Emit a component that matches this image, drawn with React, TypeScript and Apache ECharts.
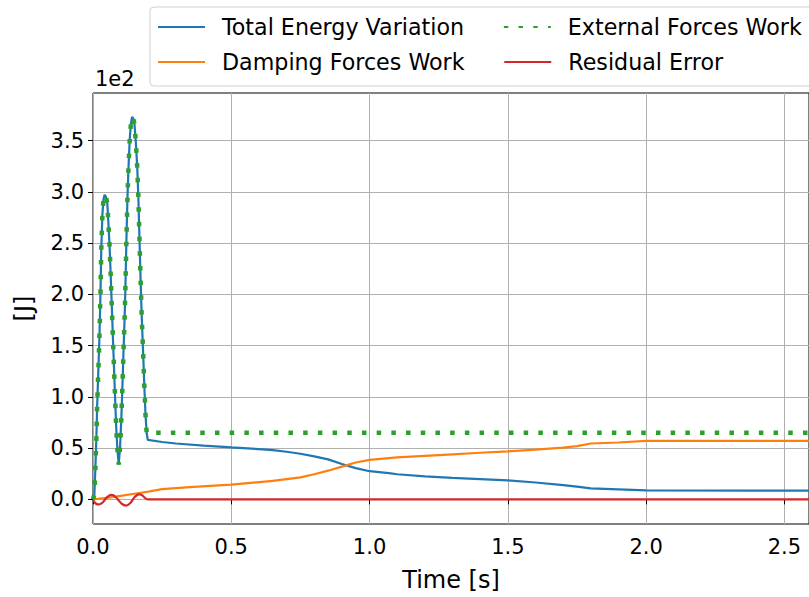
import React, { useEffect, useRef } from "react";
import * as echarts from "echarts";

const FONT = "DejaVu Sans";

// x-axis and y-axis tick values (y in units of 1e2 J)
const xTicks = [0, 0.5, 1.0, 1.5, 2.0, 2.5];
const yTicks = [0, 0.5, 1.0, 1.5, 2.0, 2.5, 3.0, 3.5];

// Total Energy Variation
const totalTime = [
  0, 0.005, 0.008, 0.012, 0.015, 0.019, 0.023, 0.027, 0.03, 0.034, 0.038, 0.042,
  0.047, 0.052, 0.056, 0.06, 0.064, 0.068, 0.072, 0.076, 0.08, 0.084, 0.088, 0.093,
  0.098, 0.102, 0.106, 0.11, 0.114, 0.117, 0.121, 0.125, 0.129, 0.133, 0.137, 0.141,
  0.145, 0.15, 0.155, 0.16, 0.164, 0.168, 0.172, 0.176, 0.181, 0.186, 0.19, 0.194,
  0.198, 0.25, 0.3, 0.4, 0.5, 0.6, 0.65, 0.7, 0.75, 0.8, 0.85, 0.9, 0.95, 1.0, 1.07,
  1.1, 1.2, 1.3, 1.4, 1.5, 1.6, 1.7, 1.75, 1.8, 1.9, 2.0, 2.7,
];
const totalEnergy = [
  0.0, 0.05, 0.26, 0.58, 0.91, 1.23, 1.56, 2.0, 2.45, 2.78, 2.93, 2.97,
  2.95, 2.88, 2.68, 2.47, 2.19, 1.88, 1.58, 1.28, 0.98, 0.7, 0.5, 0.34,
  0.52, 0.76, 1.07, 1.42, 1.74, 2.04, 2.55, 2.98, 3.28, 3.52, 3.66, 3.73,
  3.72, 3.66, 3.48, 3.24, 2.95, 2.55, 2.15, 1.8, 1.45, 1.08, 0.82, 0.65,
  0.58, 0.56, 0.545, 0.525, 0.507, 0.49, 0.48, 0.465, 0.445, 0.42, 0.39, 0.345, 0.305, 0.275, 0.257,
  0.245, 0.225, 0.21, 0.198, 0.185, 0.165, 0.14, 0.125, 0.108, 0.098, 0.088, 0.085,
];

// Damping Forces Work
const dampingTime = [
  0, 0.05, 0.1, 0.15, 0.2, 0.25, 0.35, 0.5, 0.65, 0.75, 0.8, 0.85, 0.9, 0.95, 1.0,
  1.1, 1.2, 1.3, 1.4, 1.5, 1.6, 1.7, 1.75, 1.8, 1.9, 2.0, 2.7,
];
const dampingWork = [
  0, 0.015, 0.035, 0.055, 0.075, 0.1, 0.12, 0.145, 0.18, 0.215, 0.245, 0.28, 0.32, 0.36, 0.385,
  0.41, 0.425, 0.44, 0.455, 0.468, 0.485, 0.505, 0.52, 0.545, 0.555, 0.57, 0.572,
];

// External Forces Work
const externalTime = [
  0, 0.005, 0.008, 0.012, 0.015, 0.019, 0.023, 0.027, 0.03, 0.034, 0.038, 0.042,
  0.047, 0.052, 0.056, 0.06, 0.064, 0.068, 0.072, 0.076, 0.08, 0.084, 0.088, 0.093,
  0.098, 0.102, 0.106, 0.11, 0.114, 0.117, 0.121, 0.125, 0.129, 0.133, 0.137, 0.141,
  0.145, 0.15, 0.155, 0.16, 0.164, 0.168, 0.172, 0.176, 0.181, 0.186, 0.19, 0.194,
  0.198, 2.7,
];
const externalWork = [
  0.0, 0.05, 0.26, 0.58, 0.91, 1.23, 1.56, 2.0, 2.45, 2.78, 2.93, 2.97,
  2.95, 2.88, 2.68, 2.47, 2.19, 1.88, 1.58, 1.28, 0.98, 0.7, 0.5, 0.34,
  0.52, 0.76, 1.07, 1.42, 1.74, 2.04, 2.55, 2.98, 3.28, 3.52, 3.66, 3.73,
  3.72, 3.66, 3.48, 3.24, 2.95, 2.55, 2.15, 1.8, 1.45, 1.08, 0.82, 0.65,
  0.65, 0.65,
];

// Residual Error
const residualTime = [
  0, 0.01, 0.02, 0.035, 0.05, 0.065, 0.075, 0.09, 0.105, 0.12, 0.135, 0.15, 0.165,
  0.175, 0.19, 0.2, 2.7,
];
const residualError = [
  -0.01, -0.04, -0.05, -0.03, 0.02, 0.045, 0.04, 0.0, -0.045, -0.06, -0.035, 0.02, 0.048,
  0.045, 0.01, 0.0, 0.0,
];

const seriesNames = [
  "Total Energy Variation",
  "Damping Forces Work",
  "External Forces Work",
  "Residual Error",
];
const seriesColors = ["#1f77b4", "#ff7f0e", "#2ca02c", "#d62728"];

const pairs = (xs: number[], ys: number[]) => xs.map((x, i) => [x, ys[i]]);

export default function App() {
  const ref = useRef<HTMLDivElement>(null);
  useEffect(() => {
    if (!ref.current) return;
    const chart = echarts.init(ref.current, null, { renderer: "svg" });
    const legendText = {
      fontSize: 22.2,
      color: "#000",
      fontFamily: FONT,
      lineHeight: 24,
      padding: [0, 0, 0, 12],
    };
    const hiddenSymbol = { color: "rgba(0,0,0,0)", borderWidth: 0, borderColor: "rgba(0,0,0,0)" };
    const option: any = {
      animation: false,
      textStyle: { fontFamily: FONT },
      grid: {
        left: 93,
        top: 93,
        right: -2,
        bottom: 73,
        show: true,
        borderColor: "#000",
        borderWidth: 1,
        backgroundColor: "transparent",
      },
      xAxis: {
        type: "value",
        min: 0,
        max: 2.589,
        name: "Time [s]",
        nameLocation: "middle",
        nameGap: 44,
        nameTextStyle: { fontSize: 24, color: "#000", fontFamily: FONT },
        axisLine: { show: false },
        axisTick: {
          show: true,
          length: 5,
          lineStyle: { color: "#000", width: 1 },
          customValues: xTicks,
        },
        axisLabel: {
          customValues: xTicks,
          formatter: (v: number) => v.toFixed(1),
          fontSize: 21,
          color: "#000",
          margin: 12,
          fontFamily: FONT,
        },
        splitLine: { show: true, lineStyle: { color: "#b0b0b0", width: 1 } },
      },
      yAxis: {
        type: "value",
        min: -0.24,
        max: 3.964,
        name: "[J]",
        nameLocation: "middle",
        nameRotate: 90,
        nameGap: 57,
        nameTextStyle: { fontSize: 24, color: "#000", fontFamily: FONT },
        axisLine: { show: false },
        axisTick: {
          show: true,
          length: 5,
          lineStyle: { color: "#000", width: 1 },
          customValues: yTicks,
        },
        axisLabel: {
          customValues: yTicks,
          formatter: (v: number) => v.toFixed(1),
          fontSize: 21,
          color: "#000",
          margin: 9,
          fontFamily: FONT,
        },
        splitLine: { show: true, lineStyle: { color: "#b0b0b0", width: 1 } },
      },
      legend: [
        {
          data: [seriesNames[0], seriesNames[2]],
          left: 150,
          top: 7,
          width: 720,
          orient: "horizontal",
          itemWidth: 47,
          itemHeight: 14,
          itemGap: 38.8,
          padding: [8, 14, 47, 7],
          backgroundColor: "rgba(255,255,255,0.8)",
          borderColor: "#d0d0d0",
          borderWidth: 1,
          borderRadius: 4,
          itemStyle: hiddenSymbol,
          textStyle: legendText,
          z: 5,
        },
        {
          data: [seriesNames[1], seriesNames[3]],
          left: 150,
          top: 50,
          width: 720,
          orient: "horizontal",
          itemWidth: 47,
          itemHeight: 14,
          itemGap: 38.7,
          padding: [0, 0, 0, 7],
          itemStyle: hiddenSymbol,
          textStyle: legendText,
          z: 6,
        },
      ],
      graphic: [
        {
          type: "text",
          left: 95,
          top: 68,
          style: { text: "1e2", fontSize: 21, fill: "#000", fontFamily: FONT },
        },
      ],
      series: [
        {
          name: seriesNames[0],
          type: "line",
          data: pairs(totalTime, totalEnergy),
          symbol: "none",
          lineStyle: { color: seriesColors[0], width: 2.2 },
          itemStyle: { color: seriesColors[0] },
          z: 2,
        },
        {
          name: seriesNames[1],
          type: "line",
          data: pairs(dampingTime, dampingWork),
          symbol: "none",
          lineStyle: { color: seriesColors[1], width: 2.2 },
          itemStyle: { color: seriesColors[1] },
          z: 3,
        },
        {
          name: seriesNames[2],
          type: "line",
          data: pairs(externalTime, externalWork),
          symbol: "none",
          lineStyle: { color: seriesColors[2], width: 4.5, type: [4.5, 10.2], cap: "butt" },
          itemStyle: { color: seriesColors[2] },
          z: 4,
        },
        {
          name: seriesNames[3],
          type: "line",
          data: pairs(residualTime, residualError),
          symbol: "none",
          smooth: 0.3,
          lineStyle: { color: seriesColors[3], width: 2.2 },
          itemStyle: { color: seriesColors[3] },
          z: 5,
        },
      ],
    };
    chart.setOption(option);
    return () => chart.dispose();
  }, []);
  return (
    <div
      ref={ref}
      style={{ position: "absolute", left: 0, top: 0, width: 809, height: 597 }}
    />
  );
}
